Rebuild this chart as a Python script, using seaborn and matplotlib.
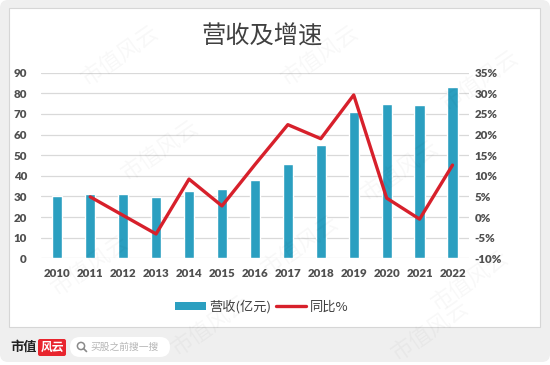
"""Revenue and YoY growth chart (营收及增速), 2010-2022."""

import matplotlib.pyplot as plt
import matplotlib.patches as mpatches
from matplotlib.lines import Line2D
from matplotlib.transforms import IdentityTransform
import seaborn as sns


YEARS = [2010, 2011, 2012, 2013, 2014, 2015, 2016, 2017, 2018, 2019, 2020, 2021, 2022]
REVENUE = [30.0, 31.2, 31.3, 29.9, 32.8, 33.6, 37.9, 45.9, 55.0, 71.0, 74.6, 74.3, 83.2]
GROWTH_YEARS = YEARS[1:]
GROWTH_PCT = [4.9, 0.4, -4.1, 9.2, 2.7, 12.7, 22.4, 19.0, 29.6, 4.6, -0.5, 12.6]
LEFT_TICKS = [0, 10, 20, 30, 40, 50, 60, 70, 80, 90]
RIGHT_TICKS = [-10, -5, 0, 5, 10, 15, 20, 25, 30, 35]

TITLE = "营收及增速"
BAR_LABEL = "营收(亿元)"
LINE_LABEL = "同比%"

BAR_COLOR = "#2b9fc0"
LINE_COLOR = "#d7202b"
TICK_COLOR = "#505050"
GRID_COLOR = "#d9d9d9"

W, H = 550, 365


def px_box(x0, y0, x1, y1, **kwargs):
    """Rounded box in pixel coordinates measured from the top-left corner."""
    return mpatches.FancyBboxPatch(
        (x0, H - y1), x1 - x0, y1 - y0, transform=IdentityTransform(), **kwargs
    )


def draw_background(fig):
    fig.patches.append(px_box(0, 0, W, 362, boxstyle="round,pad=0,rounding_size=8",
                              facecolor="#efefef", edgecolor="none", zorder=-10))
    fig.patches.append(px_box(9, 8, 540, 327, boxstyle="square,pad=0",
                              facecolor="white", edgecolor="#d6d6d6", linewidth=0.8, zorder=-9))


def draw_watermarks(fig):
    spots = [(120, 55), (320, 55), (480, 80), (160, 150), (400, 170),
             (90, 265), (300, 245), (470, 280), (210, 325), (430, 330)]
    for x, y in spots:
        fig.text(x / W, 1 - y / H, "市值风云", rotation=35, fontsize=16,
                 color="#000000", alpha=0.03, ha="center", va="center", zorder=50)


def draw_footer(fig):
    fig.text(10 / W, 1 - 347 / H, "市值", fontsize=9.5, fontweight="bold",
             color="#222222", ha="left", va="center")
    fig.patches.append(px_box(38, 339, 66, 356, boxstyle="round,pad=0,rounding_size=2",
                              facecolor="#e8252e", edgecolor="none"))
    fig.text(52 / W, 1 - 347.5 / H, "风云", fontsize=8.5, fontstyle="italic",
             fontweight="bold", color="white", ha="center", va="center")
    fig.patches.append(px_box(70, 337, 170, 357, boxstyle="round,pad=0,rounding_size=10",
                              facecolor="white", edgecolor="none"))
    fig.patches.append(mpatches.Circle((81, H - 346), 3.6, transform=IdentityTransform(),
                                       facecolor="none", edgecolor="#8a8a8a", linewidth=1.1))
    fig.lines.append(Line2D([83.5, 86.5], [H - 348.5, H - 351.5], transform=IdentityTransform(),
                            color="#8a8a8a", linewidth=1.2))
    fig.text(90 / W, 1 - 347 / H, "买股之前搜一搜", fontsize=7, color="#b5b5b5",
             ha="left", va="center")


def main():
    sns.set_theme(style="white")
    plt.rcParams["font.family"] = ["Noto Sans CJK SC", "DejaVu Sans"]

    fig = plt.figure(figsize=(W / 100, H / 100), dpi=100, facecolor="white")
    draw_background(fig)

    ax = fig.add_axes([40.8 / W, 1 - 258.3 / H, (469 - 40.8) / W, (258.3 - 72.7) / H])
    ax.set_facecolor("none")
    sns.barplot(x=YEARS, y=REVENUE, native_scale=True, width=0.31, color=BAR_COLOR,
                saturation=1, ax=ax, zorder=2)
    ax.set_xlim(YEARS[0] - 0.5, YEARS[-1] + 0.5)
    ax.set_ylim(LEFT_TICKS[0], LEFT_TICKS[-1])
    ax.set_yticks(LEFT_TICKS)
    ax.set_xticks(YEARS)
    ax.set_xticklabels([str(y) for y in YEARS])
    ax.grid(axis="y", color=GRID_COLOR, linewidth=0.9)
    ax.grid(axis="x", visible=False)
    ax.set_axisbelow(True)

    ax2 = ax.twinx()
    sns.lineplot(x=GROWTH_YEARS, y=GROWTH_PCT, color=LINE_COLOR, linewidth=2.4, ax=ax2)
    ax2.set_ylim(RIGHT_TICKS[0], RIGHT_TICKS[-1])
    ax2.set_yticks(RIGHT_TICKS)
    ax2.set_yticklabels([f"{t}%" for t in RIGHT_TICKS])
    ax2.grid(False)

    for axis in (ax, ax2):
        axis.set_xlabel("")
        axis.set_ylabel("")
        for spine in axis.spines.values():
            spine.set_visible(False)
        axis.tick_params(length=0, labelsize=8.3, labelcolor=TICK_COLOR)
        for label in axis.get_xticklabels() + axis.get_yticklabels():
            label.set_fontfamily("Lato")
            label.set_fontweight("heavy")
    ax.tick_params(axis="y", pad=10)
    ax.tick_params(axis="x", pad=7)
    ax2.tick_params(axis="y", pad=4)

    fig.text(262 / W, 1 - 37 / H, TITLE, fontsize=17.5, color="#404040",
             ha="center", va="center")

    handles = [
        mpatches.Patch(facecolor=BAR_COLOR, edgecolor="none", label=BAR_LABEL),
        Line2D([], [], color=LINE_COLOR, linewidth=2.4, label=LINE_LABEL),
    ]
    fig.legend(handles=handles, loc="center", bbox_to_anchor=(262 / W, 1 - 307 / H),
               ncol=2, frameon=False, fontsize=9.5, labelcolor="#404040",
               handlelength=2.3, handleheight=0.6, handletextpad=0.3, columnspacing=0.3)

    draw_footer(fig)
    draw_watermarks(fig)
    fig.savefig("out.png", dpi=100)


if __name__ == "__main__":
    main()
